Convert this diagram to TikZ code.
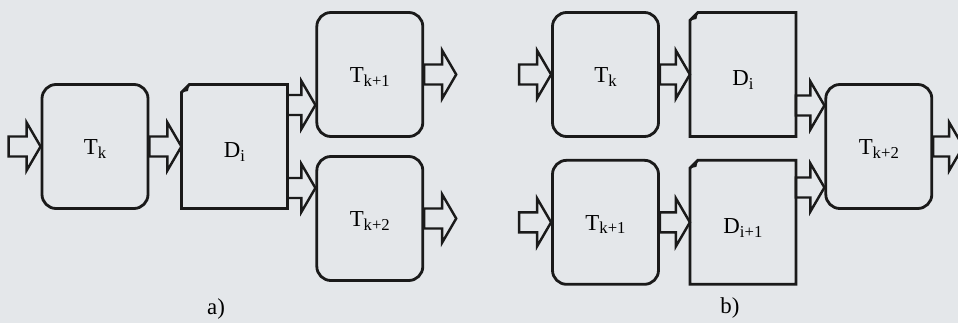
\documentclass[tikz,border=0pt]{standalone}
\usepackage{fontspec}
\setmainfont{Liberation Serif}
\usetikzlibrary{positioning,calc}
\definecolor{paper}{HTML}{E4E7EA}
\definecolor{ink}{HTML}{1A1A1A}
\newcommand\ix[1]{\raisebox{-0.35ex}{\fontsize{9.5}{11}\selectfont #1}}
\newcommand\fatarr[2]{%
  \draw[fat] let \p1=#1, \p2=#2 in
    (\x1,\y1+2mm) -- (\x2-2.8mm,\y1+2mm) -- (\x2-2.8mm,\y1+4.8mm) -- (\x2,\y1)
    -- (\x2-2.8mm,\y1-4.8mm) -- (\x2-2.8mm,\y1-2mm) -- (\x1,\y1-2mm) -- cycle;}
\newcommand\docframe[1]{%
  \draw[frame] ($(#1.north west)+(0,-1.6mm)$) -- ($(#1.north west)+(1.6mm,0)$)
    -- (#1.north east) -- (#1.south east) -- (#1.south west) -- cycle;
  \fill[ink] ($(#1.north west)+(0,-1.6mm)$) -- ($(#1.north west)+(1.6mm,0)$)
    -- ($(#1.north west)+(1.3mm,-1.3mm)$) -- cycle;}

\begin{document}
\begin{tikzpicture}[
  task/.style={draw=ink, line width=1.6pt, rounded corners=8pt, minimum width=2.12cm,
               minimum height=2.48cm, text height=1.1em, font=\fontsize{13}{15}\selectfont},
  doc/.style={minimum width=2.12cm, minimum height=2.48cm, outer sep=0pt,
              text height=1.5em, font=\fontsize{13}{15}\selectfont},
  frame/.style={draw=ink, line width=1.6pt, line join=miter},
  fat/.style={draw=ink, line width=1.4pt, line join=miter},
  caption/.style={font=\fontsize{13}{15}\selectfont}]
  \fill[paper] (0,0) rectangle (19.16,6.46);
  \useasboundingbox (0,0) rectangle (19.16,6.46);
  % a)
  \node[task] (tka) at (1.9,3.53) {T\ix{k}};
  \node[doc, right=6.4mm of tka] (dia) {D\ix{i}};
  \node[task, right=5.6mm of dia, yshift=1.44cm] (tka1) {T\ix{k+1}};
  \node[task, right=5.6mm of dia, yshift=-1.44cm] (tka2) {T\ix{k+2}};
  \docframe{dia}
  \coordinate (ina) at ($(tka.west)+(-6.4mm,0)$);
  \coordinate (outa1) at ($(tka1.east)+(6.4mm,0)$);
  \coordinate (outa2) at ($(tka2.east)+(6.4mm,0)$);
  \fatarr{(ina)}{(tka.west)}
  \fatarr{(tka.east)}{(dia.west)}
  \fatarr{($(dia.east)+(0,8.3mm)$)}{(tka1.west)}
  \fatarr{($(dia.east)+(0,-8.3mm)$)}{(tka2.west)}
  \fatarr{(tka1.east)}{(outa1)}
  \fatarr{(tka2.east)}{(outa2)}
  \node[caption] (capa) at (4.32,0.27) {a)};
  % b)
  \node[task] (tkb) at (12.11,4.97) {T\ix{k}};
  \node[doc, right=6mm of tkb] (dib) {D\ix{i}};
  \node[task, below=4.2mm of tkb] (tkb1) {T\ix{k+1}};
  \node[doc, right=6mm of tkb1] (dib1) {D\ix{i+1}};
  \node[task, right=5.7mm of dib, yshift=-1.44cm] (tkb2) {T\ix{k+2}};
  \docframe{dib}
  \docframe{dib1}
  \coordinate (inb) at ($(tkb.west)+(-6.4mm,0)$);
  \coordinate (inb1) at ($(tkb1.west)+(-6.4mm,0)$);
  \coordinate (outb) at ($(tkb2.east)+(6mm,0)$);
  \fatarr{(inb)}{(tkb.west)}
  \fatarr{(inb1)}{(tkb1.west)}
  \fatarr{(tkb.east)}{(dib.west)}
  \fatarr{(tkb1.east)}{(dib1.west)}
  \fatarr{($(tkb2.west)+(-5.7mm,8.2mm)$)}{(tkb2.west)}
  \fatarr{($(tkb2.west)+(-5.7mm,-8.2mm)$)}{(tkb2.west)}
  \fatarr{(tkb2.east)}{(outb)}
  \node[caption] (capb) at (14.6,0.3) {b)};
\end{tikzpicture}
\end{document}
